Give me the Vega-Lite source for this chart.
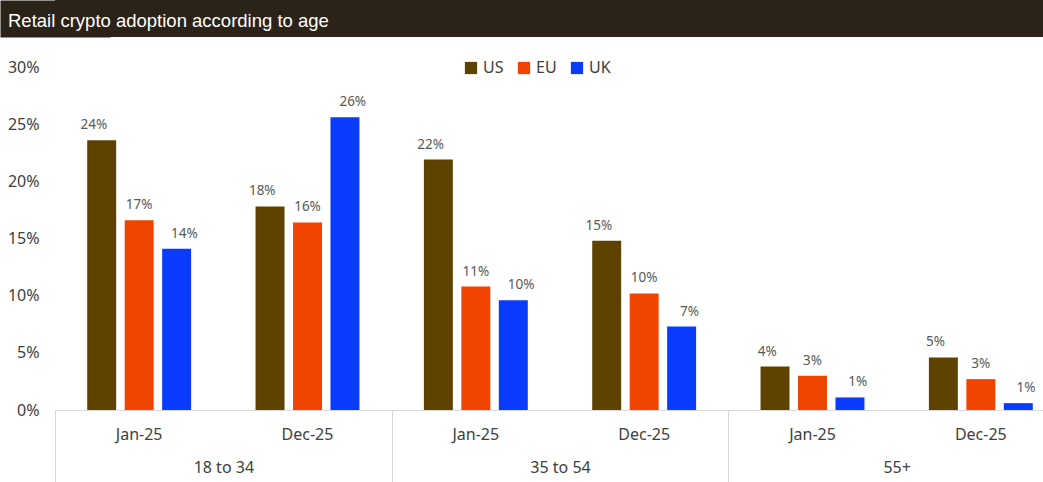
{
  "$schema": "https://vega.github.io/schema/vega-lite/v6.json",
  "background": "white",
  "padding": {"left": 0, "top": 0, "right": -22, "bottom": 0},
  "config": {"view": {"stroke": null}, "font": "Noto Sans", "concat": {"spacing": 22}},
  "datasets": {
    "adoption": [
      {"age": "18 to 34", "period": "Jan-25", "key": "18 to 34|Jan-25", "country": "US", "value": 0.236},
      {"age": "18 to 34", "period": "Jan-25", "key": "18 to 34|Jan-25", "country": "EU", "value": 0.166},
      {"age": "18 to 34", "period": "Jan-25", "key": "18 to 34|Jan-25", "country": "UK", "value": 0.141},
      {"age": "18 to 34", "period": "Dec-25", "key": "18 to 34|Dec-25", "country": "US", "value": 0.178},
      {"age": "18 to 34", "period": "Dec-25", "key": "18 to 34|Dec-25", "country": "EU", "value": 0.164},
      {"age": "18 to 34", "period": "Dec-25", "key": "18 to 34|Dec-25", "country": "UK", "value": 0.256},
      {"age": "35 to 54", "period": "Jan-25", "key": "35 to 54|Jan-25", "country": "US", "value": 0.219},
      {"age": "35 to 54", "period": "Jan-25", "key": "35 to 54|Jan-25", "country": "EU", "value": 0.108},
      {"age": "35 to 54", "period": "Jan-25", "key": "35 to 54|Jan-25", "country": "UK", "value": 0.096},
      {"age": "35 to 54", "period": "Dec-25", "key": "35 to 54|Dec-25", "country": "US", "value": 0.148},
      {"age": "35 to 54", "period": "Dec-25", "key": "35 to 54|Dec-25", "country": "EU", "value": 0.102},
      {"age": "35 to 54", "period": "Dec-25", "key": "35 to 54|Dec-25", "country": "UK", "value": 0.073},
      {"age": "55+", "period": "Jan-25", "key": "55+|Jan-25", "country": "US", "value": 0.038},
      {"age": "55+", "period": "Jan-25", "key": "55+|Jan-25", "country": "EU", "value": 0.030},
      {"age": "55+", "period": "Jan-25", "key": "55+|Jan-25", "country": "UK", "value": 0.011},
      {"age": "55+", "period": "Dec-25", "key": "55+|Dec-25", "country": "US", "value": 0.046},
      {"age": "55+", "period": "Dec-25", "key": "55+|Dec-25", "country": "EU", "value": 0.027},
      {"age": "55+", "period": "Dec-25", "key": "55+|Dec-25", "country": "UK", "value": 0.006}
    ]
  },
  "vconcat": [
    {
      "width": 1010,
      "height": 37,
      "data": {"values": [{"bar": "title"}]},
      "mark": {"type": "rect", "color": "#2b2218"},
      "encoding": {
        "y": {
          "field": "bar", "type": "nominal",
          "scale": {"paddingInner": 0, "paddingOuter": 0},
          "axis": {"title": null, "labels": false, "ticks": false, "domain": true, "domainColor": "#2b2218", "domainWidth": 110, "domainCap": "butt", "zindex": 0}
        }
      },
      "title": {
        "text": "Retail crypto adoption according to age",
        "anchor": "start",
        "orient": "top",
        "offset": -30,
        "dx": -47,
        "color": "white",
        "fontSize": 18.5,
        "fontWeight": "normal",
        "font": "Liberation Sans",
        "zindex": 2
      }
    },
    {
      "width": 1010,
      "height": 343,
      "data": {"name": "adoption"},
      "resolve": {"scale": {"x": "independent", "xOffset": "independent"}, "axis": {"x": "independent"}},
      "layer": [
        {
          "mark": {"type": "bar"},
          "encoding": {
            "x": {
              "field": "key", "type": "nominal", "sort": null,
              "scale": {"paddingInner": 0, "paddingOuter": 0},
              "axis": {"title": null, "labelExpr": "split(datum.value, '|')[1]", "labelAngle": 0, "ticks": false, "domain": true, "domainColor": "#d9d9d9", "labelFontSize": 16, "labelColor": "#404040", "labelPadding": 16}
            },
            "xOffset": {
              "field": "country", "type": "nominal",
              "scale": {"domain": ["US", "EU", "UK"], "paddingInner": 0.227, "paddingOuter": 0.86}
            },
            "y": {
              "field": "value", "type": "quantitative",
              "scale": {"domain": [0, 0.3]},
              "axis": {"title": null, "format": ".0%", "values": [0, 0.05, 0.1, 0.15, 0.2, 0.25, 0.3], "grid": false, "ticks": false, "domain": false, "labelFontSize": 16, "labelColor": "#404040", "labelPadding": 16, "minExtent": 55, "maxExtent": 55}
            },
            "color": {
              "field": "country", "type": "nominal",
              "scale": {"domain": ["US", "EU", "UK"], "range": ["#5e4200", "#f04400", "#0a3cff"]},
              "legend": {"orient": "none", "legendX": 408, "legendY": 60, "direction": "horizontal", "title": null, "symbolType": "square", "symbolSize": 150, "symbolStrokeWidth": 0, "labelFontSize": 16, "labelColor": "#404040", "columnPadding": 12, "labelOffset": 4}
            }
          }
        },
        {
          "mark": {"type": "text", "baseline": "bottom", "dy": -8, "fontSize": 13.5, "color": "#595959"},
          "encoding": {
            "x": {"field": "key", "type": "nominal", "sort": null, "scale": {"paddingInner": 0, "paddingOuter": 0}, "axis": null},
            "xOffset": {"field": "country", "type": "nominal", "scale": {"domain": ["US", "EU", "UK"], "paddingInner": 0.227, "paddingOuter": 0.86}},
            "y": {"field": "value", "type": "quantitative"},
            "text": {"field": "value", "type": "quantitative", "format": ".0%"}
          }
        },
        {
          "mark": {"type": "rect", "opacity": 0},
          "encoding": {
            "x": {
              "field": "age", "type": "nominal", "sort": null,
              "scale": {"paddingInner": 0, "paddingOuter": 0},
              "axis": {"title": null, "orient": "bottom", "domain": false, "ticks": true, "tickBand": "extent", "tickSize": 72, "tickColor": "#d9d9d9", "labelPadding": -23, "labelFontSize": 16, "labelColor": "#404040", "labelAngle": 0}
            }
          }
        }
      ]
    }
  ]
}
